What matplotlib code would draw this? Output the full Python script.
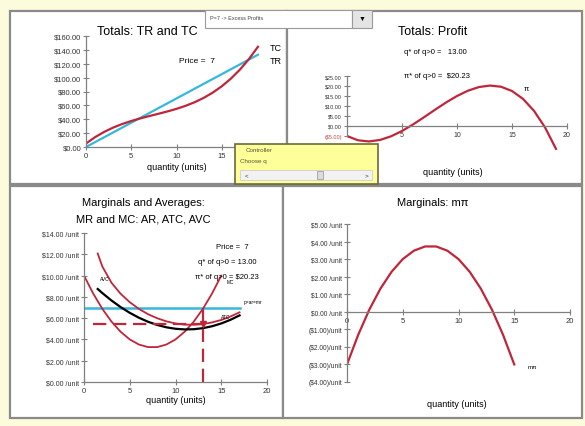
import matplotlib
matplotlib.use("Agg")
import matplotlib.pyplot as plt
from matplotlib.patches import Rectangle
import numpy as np

plt.rcParams['font.family'] = ['Liberation Sans', 'DejaVu Sans']

price = 7
q_star = 13.00
profit_star = 20.23

q_tot = [0, 1, 2, 3, 4, 5, 6, 7, 8, 9, 10, 11, 12, 13, 14, 15, 16, 17, 18, 19]
tc = [5.00, 14.14, 21.72, 27.98, 33.16, 37.50, 41.24, 44.62, 47.88, 51.26,
      55.00, 59.34, 64.52, 70.78, 78.36, 87.50, 98.44, 111.42, 126.68, 144.46]
tr = [0, 7, 14, 21, 28, 35, 42, 49, 56, 63, 70, 77, 84, 91, 98, 105, 112, 119, 126, 133]
profit = [-5.00, -7.14, -7.72, -6.98, -5.16, -2.50, 0.76, 4.38, 8.12, 11.74,
          15.00, 17.66, 19.48, 20.22, 19.64, 17.50, 13.56, 7.58, -0.68, -11.46]

q_mc = [0, 1, 2, 3, 4, 5, 6, 7, 8, 9, 10, 11, 12, 13, 14, 15]
mc = [10.00, 8.32, 6.88, 5.68, 4.72, 4.00, 3.52, 3.28, 3.28, 3.52, 4.00, 4.72, 5.68, 6.88, 8.32, 10.00]
m_profit = [-3.00, -1.32, 0.12, 1.32, 2.28, 3.00, 3.48, 3.72, 3.72, 3.48, 3.00, 2.28, 1.32, 0.12, -1.32, -3.00]

q_avg = [1.5, 2, 3, 4, 5, 6, 7, 8, 9, 10, 11, 12, 13, 14, 15, 16, 17]
avc = [8.74, 8.36, 7.66, 7.04, 6.50, 6.04, 5.66, 5.36, 5.14, 5.00, 4.94, 4.96, 5.06, 5.24, 5.50, 5.84, 6.26]
atc = [12.07, 10.86, 9.33, 8.29, 7.50, 6.87, 6.37, 5.99, 5.70, 5.50, 5.39, 5.38, 5.44, 5.60, 5.83, 6.15, 6.55]
q_ar = [0, 17]
atc_at_q_star = 5.44

tot_yticks = [0, 20, 40, 60, 80, 100, 120, 140, 160]
profit_yticks = [-5, 0, 5, 10, 15, 20, 25]
avg_yticks = [0, 2, 4, 6, 8, 10, 12, 14]
marg_yticks = [-4, -3, -2, -1, 0, 1, 2, 3, 4, 5]
xticks = [0, 5, 10, 15, 20]

W, H = 585, 427
RED = '#c0263a'
CYAN = '#35b8dc'
GREY = '#808080'

fig = plt.figure(figsize=(W / 100, H / 100), dpi=100)
fig.patch.set_facecolor('#fcfbdc')


def px(x, y):
    return x / W, 1 - y / H


def add_ax(x0, x1, y0, y1):
    # pixel box: left, right, top, bottom
    ax = fig.add_axes([x0 / W, 1 - y1 / H, (x1 - x0) / W, (y1 - y0) / H])
    ax.set_zorder(2)
    return ax


def money(v):
    return f'(${abs(v):.2f})' if v < 0 else f'${v:.2f}'


def style(ax, size=5):
    ax.set_facecolor('none')
    for s in ['top', 'right']:
        ax.spines[s].set_visible(False)
    for s in ['left', 'bottom']:
        ax.spines[s].set_color(GREY)
        ax.spines[s].set_linewidth(0.9)
    ax.tick_params(direction='inout', length=4, width=0.8, color=GREY,
                   labelsize=size, pad=1.5, labelcolor='#333333')


# ---- chart panels ----
for (x0, y0, x1, y1) in [(10, 12, 287, 185), (287, 12, 582, 185),
                         (10, 187, 283, 419), (283, 187, 582, 419)]:
    fig.patches.append(Rectangle(px(x0, y1), (x1 - x0) / W, (y1 - y0) / H,
                                 transform=fig.transFigure, facecolor='white',
                                 edgecolor='#8a8a8a', linewidth=1.6, zorder=-1))

# ---- Totals: TR and TC ----
ax1 = add_ax(86, 267, 37, 148)
style(ax1, 5.5)
ax1.plot(q_tot, tr, color=CYAN, lw=1.6)
ax1.plot(q_tot, tc, color=RED, lw=1.6)
ax1.set_xlim(0, 20)
ax1.set_ylim(0, 160)
ax1.set_xticks(xticks)
ax1.set_yticks(tot_yticks)
ax1.set_yticklabels([money(v) for v in tot_yticks])
ax1.set_xlabel('quantity (units)', fontsize=6.5, labelpad=2)
ax1.text(20.3, 143, 'TC', fontsize=6.5, va='center', clip_on=False)
ax1.text(20.3, 124, 'TR', fontsize=6.5, va='center', clip_on=False)
fig.text(*px(147, 32), 'Totals: TR and TC', fontsize=9, ha='center', va='center')
fig.text(*px(197, 62), f'Price =  {price}', fontsize=6, ha='center', va='center')

# ---- Totals: Profit ----
ax2 = add_ax(347, 567, 77, 151)
style(ax2)
ax2.spines['bottom'].set_position(('data', 0))
ax2.spines['left'].set_bounds(-5, 25)
ax2.plot(q_tot, profit, color=RED, lw=1.6)
ax2.set_xlim(0, 20)
ax2.set_ylim(-12, 25)
ax2.set_xticks(xticks[1:])
ax2.set_yticks(profit_yticks)
ax2.set_yticklabels([money(v) for v in profit_yticks], fontsize=4)
ax2.get_yticklabels()[0].set_color('#d04040')
ax2.text(16.3, 18.5, 'π', fontsize=5.5, ha='center', va='center')
fig.text(*px(453, 173), 'quantity (units)', fontsize=6.5, ha='center', va='center')
fig.text(*px(433, 32), 'Totals: Profit', fontsize=9, ha='center', va='center')
fig.text(*px(435, 53), f'q* of q>0 =   {q_star:.2f}', fontsize=5.5, ha='center', va='center')
fig.text(*px(437, 76), f'π* of q>0 =  ${profit_star:.2f}', fontsize=5.5, ha='center', va='center')

# ---- Marginals and Averages ----
ax3 = add_ax(84, 267, 234, 383)
style(ax3, 5.5)
ax3.plot(q_ar, [price, price], color=CYAN, lw=1.8)
ax3.plot(q_mc, mc, color=RED, lw=1.3)
ax3.plot(q_avg, atc, color=RED, lw=1.3)
ax3.plot(q_avg, avc, color='black', lw=1.6)
ax3.plot([1, q_star], [atc_at_q_star, atc_at_q_star], color=RED, lw=1.6, ls=(0, (6, 3)))
ax3.plot([q_star, q_star], [0, price], color=RED, lw=1.6, ls=(0, (6, 3)))
ax3.plot([q_star], [atc_at_q_star], marker='v', color=RED, ms=4)
ax3.set_xlim(0, 20)
ax3.set_ylim(0, 14)
ax3.set_xticks(xticks)
ax3.set_yticks(avg_yticks)
ax3.set_yticklabels([money(v) + ' /unit' for v in avg_yticks], fontsize=5)
ax3.set_xlabel('quantity (units)', fontsize=6.5, labelpad=1)
ax3.text(1.7, 9.6, 'AVC', fontsize=3.5)
ax3.text(15.6, 9.3, 'MC', fontsize=3.5)
ax3.text(15.0, 6.0, 'ATC', fontsize=3.5)
ax3.text(17.4, 7.4, 'p=ar=mr', fontsize=3.5, clip_on=False)
fig.text(*px(143, 203), 'Marginals and Averages:', fontsize=8, ha='center', va='center')
fig.text(*px(143, 220), 'MR and MC: AR, ATC, AVC', fontsize=8, ha='center', va='center')
fig.text(*px(232, 248), f'Price =  {price}', fontsize=5.5, ha='center', va='center')
fig.text(*px(227, 263), f'q* of q>0 = {q_star:.2f}', fontsize=5.5, ha='center', va='center')
fig.text(*px(227, 278), f'π* of q>0 = ${profit_star:.2f}', fontsize=5.5, ha='center', va='center')

# ---- Marginals: m-profit ----
ax4 = add_ax(347, 570, 225, 383)
style(ax4, 5.5)
ax4.spines['bottom'].set_position(('data', 0))
ax4.plot(q_mc, m_profit, color=RED, lw=1.6)
ax4.set_xlim(0, 20)
ax4.set_ylim(-4, 5)
ax4.set_xticks(xticks)
ax4.set_yticks(marg_yticks)
ax4.set_yticklabels([money(v) + (' /unit' if v >= 0 else '/unit') for v in marg_yticks], fontsize=4.8)
ax4.text(16.2, -3.1, 'mπ', fontsize=4.5, va='center')
fig.text(*px(457, 405), 'quantity (units)', fontsize=6.5, ha='center', va='center')
fig.text(*px(433, 203), 'Marginals: mπ', fontsize=8, ha='center', va='center')

# ---- drop-down control ----
fig.patches.append(Rectangle(px(205, 29), 147 / W, 18 / H, transform=fig.transFigure,
                             facecolor='white', edgecolor='#9a9a9a', lw=0.8, zorder=5))
fig.patches.append(Rectangle(px(352, 29), 20 / W, 18 / H, transform=fig.transFigure,
                             facecolor='#e4e4e4', edgecolor='#9a9a9a', lw=0.8, zorder=5))
fig.text(*px(362, 19), '▼', fontsize=5, ha='center', va='center', zorder=6)
fig.text(*px(210, 18), 'P=7 -> Excess Profits', fontsize=4, va='center', zorder=6,
         color='#444444')

# ---- scroll-bar controller ----
fig.patches.append(Rectangle(px(235, 185), 143 / W, 40 / H, transform=fig.transFigure,
                             facecolor='#ffff99', edgecolor='#6b6b3a', lw=1.2, zorder=5))
fig.text(*px(246, 151), 'Controller', fontsize=4.5, va='center', zorder=6, color='#555533')
fig.text(*px(240, 162), 'Choose q', fontsize=4.5, va='center', zorder=6, color='#555533')
fig.patches.append(Rectangle(px(240, 181), 132 / W, 10 / H, transform=fig.transFigure,
                             facecolor='#f2f2f2', edgecolor='#cfcfcf', lw=0.6, zorder=6))
fig.patches.append(Rectangle(px(317, 180), 6 / W, 8 / H, transform=fig.transFigure,
                             facecolor='#dcdcdc', edgecolor='#a0a0a0', lw=0.6, zorder=7))
fig.text(*px(245, 176), '<', fontsize=4.5, va='center', zorder=7, color='#333333')
fig.text(*px(365, 176), '>', fontsize=4.5, va='center', zorder=7, color='#333333')

fig.savefig('out.png', dpi=100, facecolor=fig.get_facecolor())
